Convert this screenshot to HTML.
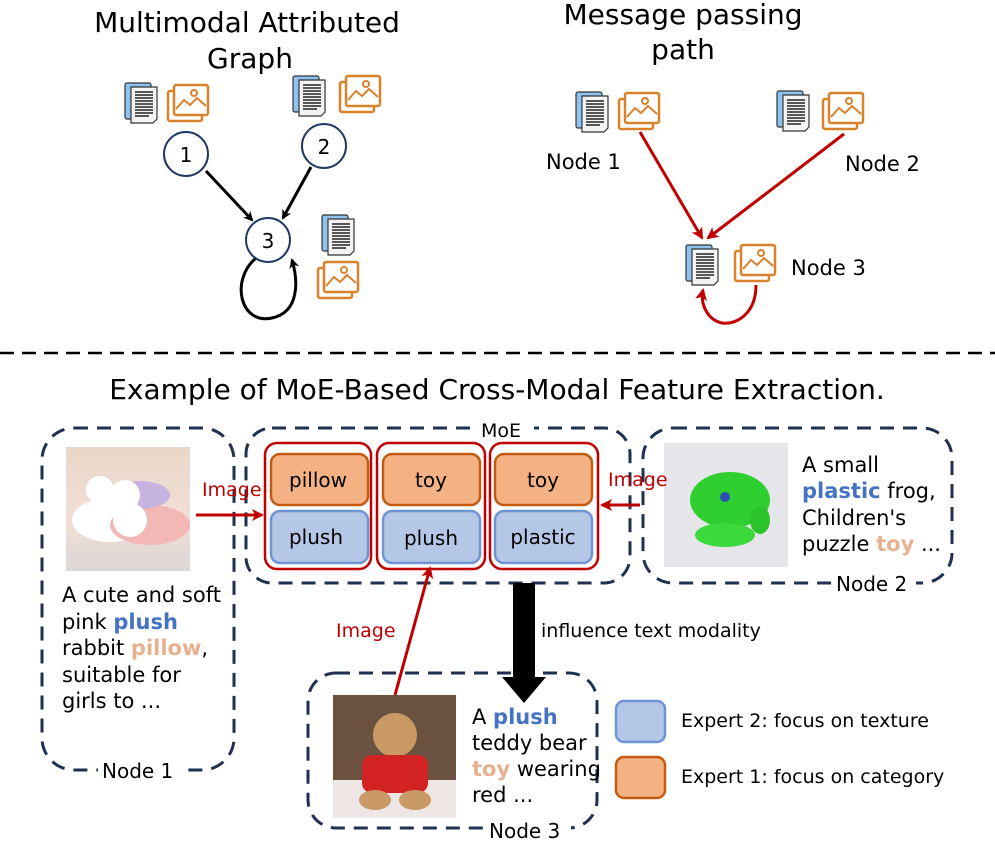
<!DOCTYPE html>
<html><head><meta charset="utf-8"><style>
html,body{margin:0;padding:0;background:#fff}
svg{display:block}
text{font-family:"DejaVu Sans","Liberation Sans",sans-serif}
</style></head><body>
<svg width="995" height="845" viewBox="0 0 995 845" xmlns="http://www.w3.org/2000/svg">
<defs>
<marker id="ab" markerWidth="10" markerHeight="10" refX="8" refY="5" orient="auto" markerUnits="userSpaceOnUse"><path d="M0,0 L10,5 L0,10 L3,5z" fill="#000"/></marker>
<marker id="ar" markerWidth="12" markerHeight="12" refX="10" refY="6" orient="auto" markerUnits="userSpaceOnUse"><path d="M0,0 L12,6 L0,12 L3,6z" fill="#c00000"/></marker>
<g id="doc">
<rect x="0" y="0" width="26" height="36" rx="2" fill="#8ec3f0" stroke="#333" stroke-width="1.2"/>
<path d="M6,4 H32 V36 L28,40 H6 Z" fill="#f4f4f4" stroke="#333" stroke-width="1.2"/>
<path d="M10,9H28M10,12H28M10,15H28M10,18H28M10,21H28M10,24H28M10,27H28M10,30H28M10,33H24" stroke="#222" stroke-width="1.4"/>
</g>
<g id="img">
<rect x="0" y="6" width="34" height="30" rx="2" fill="#fff" stroke="#d9822b" stroke-width="2.5"/>
<rect x="6" y="0" width="34" height="30" rx="2" fill="#fff" stroke="#d9822b" stroke-width="2.5"/>
<circle cx="26" cy="8" r="3" fill="none" stroke="#d9822b" stroke-width="2"/>
<path d="M8,24 L16,15 L22,20 L29,13 L38,21" fill="none" stroke="#d9822b" stroke-width="2"/>
</g>
</defs>

<!-- top-left -->
<text x="247" y="32" font-size="28" text-anchor="middle">Multimodal Attributed</text>
<text x="250" y="68" font-size="28" text-anchor="middle">Graph</text>
<use href="#doc" x="125" y="83"/><use href="#img" x="168" y="85"/>
<use href="#doc" x="293" y="76"/><use href="#img" x="340" y="76"/>
<use href="#doc" x="322" y="215"/><use href="#img" x="318" y="262"/>
<line x1="206" y1="171" x2="252" y2="220" stroke="#000" stroke-width="3" marker-end="url(#ab)"/>
<line x1="311" y1="167" x2="283" y2="218" stroke="#000" stroke-width="3" marker-end="url(#ab)"/>
<path d="M256,258 C230,280 240,325 272,318 C300,312 298,280 292,260" fill="none" stroke="#000" stroke-width="3" marker-end="url(#ab)"/>
<circle cx="186" cy="154" r="22" fill="#fff" stroke="#1f3864" stroke-width="2"/>
<text x="186" y="162" font-size="20" text-anchor="middle">1</text>
<circle cx="324" cy="146" r="22" fill="#fff" stroke="#1f3864" stroke-width="2"/>
<text x="324" y="154" font-size="20" text-anchor="middle">2</text>
<circle cx="268" cy="240" r="22" fill="#fff" stroke="#1f3864" stroke-width="2"/>
<text x="268" y="248" font-size="20" text-anchor="middle">3</text>

<!-- top-right -->
<text x="683" y="24" font-size="28" text-anchor="middle">Message passing</text>
<text x="683" y="59" font-size="28" text-anchor="middle">path</text>
<use href="#doc" x="576" y="92"/><use href="#img" x="619" y="93"/>
<use href="#doc" x="777" y="91"/><use href="#img" x="823" y="93"/>
<use href="#doc" x="686" y="245"/><use href="#img" x="735" y="245"/>
<text x="546" y="169" font-size="21">Node 1</text>
<text x="845" y="171" font-size="21">Node 2</text>
<text x="791" y="275" font-size="21">Node 3</text>
<line x1="640" y1="132" x2="702" y2="238" stroke="#c00000" stroke-width="3" marker-end="url(#ar)"/>
<line x1="844" y1="134" x2="708" y2="238" stroke="#c00000" stroke-width="3" marker-end="url(#ar)"/>
<path d="M756,285 C756,315 735,325 722,323 C708,320 700,305 703,290" fill="none" stroke="#c00000" stroke-width="3" marker-end="url(#ar)"/>

<!-- divider -->
<line x1="0" y1="353" x2="995" y2="353" stroke="#000" stroke-width="2.5" stroke-dasharray="14,8"/>
<text x="497" y="399" font-size="28" text-anchor="middle">Example of MoE-Based Cross-Modal Feature Extraction.</text>

<!-- Node1 box -->
<rect x="42" y="428" width="192" height="342" rx="32" fill="none" stroke="#1f3050" stroke-width="3" stroke-dasharray="14,9"/>
<rect x="98" y="758" width="86" height="24" fill="#fff"/>
<text x="102" y="778" font-size="20">Node 1</text>
<defs><linearGradient id="g1" x1="0" y1="0" x2="0" y2="1"><stop offset="0" stop-color="#e8d7c8"/><stop offset="0.6" stop-color="#f1dfd6"/><stop offset="1" stop-color="#dcd6d6"/></linearGradient></defs>
<rect x="66" y="447" width="124" height="124" fill="url(#g1)"/>
<ellipse cx="110" cy="520" rx="38" ry="22" fill="#fff"/>
<ellipse cx="150" cy="525" rx="40" ry="20" fill="#f3b7b5"/>
<ellipse cx="140" cy="495" rx="30" ry="14" fill="#c6b3e0"/>
<circle cx="100" cy="490" r="14" fill="#fff"/><circle cx="125" cy="495" r="15" fill="#fff"/><circle cx="130" cy="520" r="17" fill="#fff"/>
<g font-size="21">
<text x="62" y="602">A cute and soft</text>
<text x="62" y="629">pink <tspan fill="#4472c4" font-weight="bold">plush</tspan></text>
<text x="62" y="655">rabbit <tspan fill="#e8b08f" font-weight="bold">pillow</tspan>,</text>
<text x="62" y="682">suitable for</text>
<text x="62" y="708">girls to ...</text>
</g>

<!-- MoE box -->
<rect x="246" y="428" width="384" height="155" rx="26" fill="none" stroke="#1f3050" stroke-width="3" stroke-dasharray="14,9"/>
<rect x="478" y="418" width="56" height="22" fill="#fff"/>
<text x="481" y="437" font-size="19">MoE</text>
<g stroke="#c00000" stroke-width="2.5" fill="#fff">
<rect x="265" y="443" width="106" height="126" rx="12"/>
<rect x="377" y="443" width="108" height="126" rx="12"/>
<rect x="490" y="443" width="108" height="126" rx="12"/>
</g>
<g stroke="#c55a11" stroke-width="2.5" fill="#f4b183">
<rect x="271" y="454" width="97" height="51" rx="9"/>
<rect x="383" y="454" width="97" height="51" rx="9"/>
<rect x="495" y="454" width="97" height="51" rx="9"/>
</g>
<g stroke="#6f94d4" stroke-width="2.5" fill="#b4c7e7">
<rect x="271" y="511" width="97" height="52" rx="9"/>
<rect x="383" y="511" width="97" height="52" rx="9"/>
<rect x="495" y="511" width="97" height="52" rx="9"/>
</g>
<g font-size="20" text-anchor="middle">
<text x="318" y="487">pillow</text><text x="431" y="487">toy</text><text x="543" y="487">toy</text>
<text x="316" y="544">plush</text><text x="431" y="545">plush</text><text x="543" y="544">plastic</text>
</g>

<!-- Node2 box -->
<rect x="643" y="428" width="309" height="155" rx="30" fill="none" stroke="#1f3050" stroke-width="3" stroke-dasharray="14,9"/>
<rect x="832" y="572" width="84" height="24" fill="#fff"/>
<text x="836" y="591" font-size="20">Node 2</text>
<rect x="664" y="443" width="124" height="124" fill="#e6e6ea"/>
<ellipse cx="730" cy="500" rx="40" ry="28" fill="#2fcf2f"/>
<ellipse cx="725" cy="535" rx="30" ry="12" fill="#3bd93b"/>
<ellipse cx="760" cy="520" rx="10" ry="14" fill="#2bc42b"/>
<circle cx="725" cy="497" r="5" fill="#2a4fb0"/>
<g font-size="21">
<text x="802" y="472">A small</text>
<text x="802" y="498"><tspan fill="#4472c4" font-weight="bold">plastic</tspan> frog,</text>
<text x="802" y="525">Children's</text>
<text x="802" y="551">puzzle <tspan fill="#e8b08f" font-weight="bold">toy</tspan> ...</text>
</g>

<!-- Node3 box -->
<rect x="308" y="673" width="289" height="155" rx="28" fill="none" stroke="#1f3050" stroke-width="3" stroke-dasharray="14,9"/>
<rect x="485" y="818" width="86" height="27" fill="#fff"/>
<text x="489" y="838" font-size="20">Node 3</text>
<rect x="333" y="695" width="123" height="123" fill="#6b5140"/>
<rect x="333" y="780" width="123" height="38" fill="#efe6e6"/>
<circle cx="395" cy="735" r="22" fill="#c99a66"/>
<rect x="362" y="755" width="66" height="38" rx="10" fill="#d32222"/>
<ellipse cx="375" cy="800" rx="16" ry="10" fill="#c99a66"/><ellipse cx="415" cy="800" rx="16" ry="10" fill="#c99a66"/>
<g font-size="21">
<text x="472" y="724">A <tspan fill="#4472c4" font-weight="bold">plush</tspan></text>
<text x="472" y="750">teddy bear</text>
<text x="472" y="776"><tspan fill="#e8b08f" font-weight="bold">toy</tspan> wearing</text>
<text x="472" y="802">red ...</text>
</g>

<!-- red arrows -->
<line x1="196" y1="515" x2="262" y2="515" stroke="#c00000" stroke-width="3" marker-end="url(#ar)"/>
<text x="202" y="496" font-size="19" fill="#c00000">Image</text>
<line x1="640" y1="505" x2="602" y2="505" stroke="#c00000" stroke-width="3" marker-end="url(#ar)"/>
<text x="608" y="486" font-size="19" fill="#c00000">Image</text>
<line x1="395" y1="695" x2="430" y2="568" stroke="#c00000" stroke-width="3" marker-end="url(#ar)"/>
<text x="336" y="637" font-size="19" fill="#c00000">Image</text>

<!-- black arrow -->
<rect x="513" y="583" width="22" height="96" fill="#000"/>
<path d="M502,677 L546,677 L524,703 Z" fill="#000"/>
<text x="541" y="637" font-size="19">influence text modality</text>

<!-- legend -->
<rect x="616" y="701" width="49" height="41" rx="8" fill="#b4c7e7" stroke="#6f94d4" stroke-width="2.5"/>
<rect x="616" y="757" width="49" height="41" rx="8" fill="#f4b183" stroke="#c55a11" stroke-width="2.5"/>
<text x="681" y="727" font-size="19">Expert 2: focus on texture</text>
<text x="681" y="783" font-size="19">Expert 1: focus on category</text>
</svg>
</body></html>
